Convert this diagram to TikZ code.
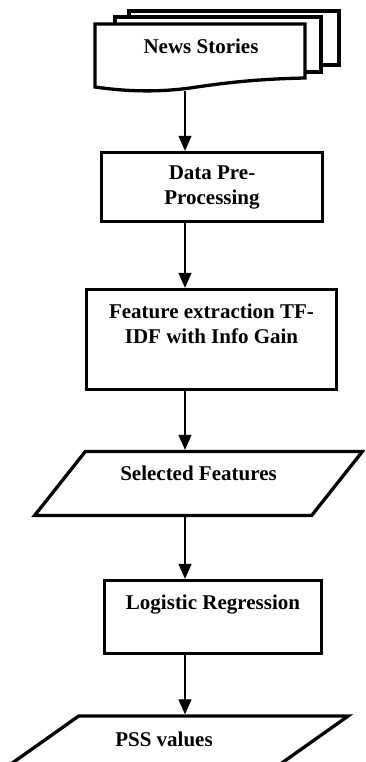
\documentclass[tikz,border=0pt]{standalone}
\usepackage{fontspec}
\setmainfont{Liberation Serif}
\usetikzlibrary{
    shapes.geometric,
    arrows.meta
}

\begin{document}
\begin{tikzpicture}[x=1pt,y=-1pt,>={Triangle[width=13pt,length=15pt]},font=\fontsize{21}{25}\selectfont\bfseries]
    \tikzstyle{page}=[draw, line width=3.3pt, fill=white]
    \tikzstyle{stepbox}=[draw, line width=3.3pt, rectangle, align=center, inner sep=0pt]
    \tikzstyle{iobox}=[draw, line width=3.3pt, trapezium, trapezium stretches=true, align=center, inner sep=0pt]
    \tikzstyle{flow}=[->, line width=1.3pt]
    \useasboundingbox (0,0) rectangle (365,762);
    \clip (0,0) rectangle (365,762);
    \coordinate (spine) at (185,0);
    % stacked pages
    \draw[page] (129,11) rectangle (339,65);
    \draw[page] (115,17) rectangle (321,72);
    \draw[page] (95,24) -- (305,24) -- (305,78) .. controls (260,79) and (230,82) .. (190,88) .. controls (160,92) and (130,92) .. (95,87) -- cycle;
    \node (news) at (201,46) {News Stories};
    \coordinate (newsbot) at (185,91);

    \node[stepbox, minimum width=221pt, minimum height=69pt] (prep) at (212,187) {Data Pre-\\Processing};
    \node[stepbox, minimum width=250pt, minimum height=100pt] (feat) at (211.5,339.5) {Feature extraction TF-\\IDF with Info Gain\\\strut};
    \node[iobox, trapezium left angle=45, trapezium right angle=135, minimum width=328pt, minimum height=64pt] (sel) at (198.5,483.5) {Selected Features\\[-12pt]\strut};
    \node[stepbox, minimum width=217pt, minimum height=73pt] (logit) at (213,617) {Logistic Regression\\[-3pt]\strut};
    \node[iobox, trapezium left angle=34, trapezium right angle=146, minimum width=369pt, minimum height=70pt] (pss) at (164,751) {PSS values\\[-9pt]\strut};

    \draw[flow] (newsbot) -- (prep.north -| spine);
    \draw[flow] (prep.south -| spine) -- (feat.north -| spine);
    \draw[flow] (feat.south -| spine) -- (sel.north -| spine);
    \draw[flow] (sel.south -| spine) -- (logit.north -| spine);
    \draw[flow] (logit.south -| spine) -- (pss.north -| spine);
\end{tikzpicture}
\end{document}
